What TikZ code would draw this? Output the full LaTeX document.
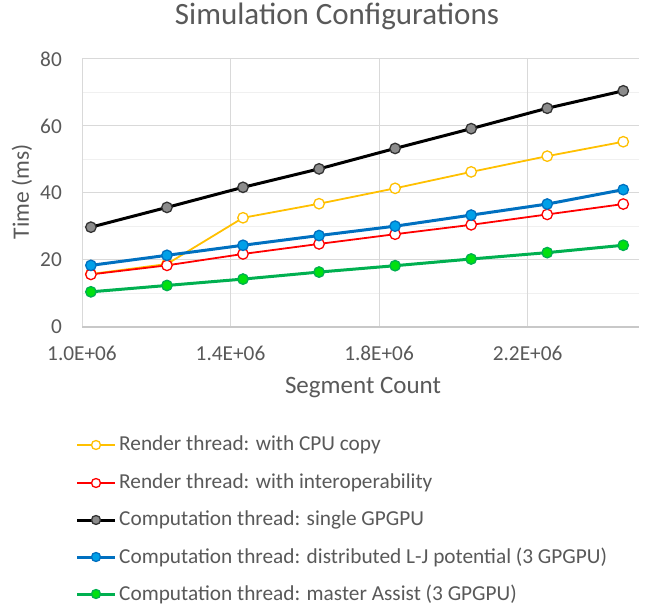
\documentclass[tikz,border=0pt]{standalone}
\usepackage{fontspec}
\setmainfont{Carlito}
\definecolor{txt}{HTML}{595959}
\definecolor{gridmaj}{HTML}{D9D9D9}
\definecolor{gridmin}{HTML}{F0F0F0}
\definecolor{axiscol}{HTML}{C8C8C8}
\definecolor{cyel}{HTML}{FFC000}
\definecolor{cred}{HTML}{FF0000}
\definecolor{cblack}{HTML}{000000}
\definecolor{cgrayfill}{HTML}{8C8C8C}
\definecolor{cblue}{HTML}{0070C0}
\definecolor{cbluefill}{HTML}{00A0E8}
\definecolor{cgreen}{HTML}{00B050}
\definecolor{cgreenfill}{HTML}{00E010}
\tikzset{
  ticklbl/.style={text=txt, inner sep=0pt, font=\fontsize{21.3}{25}\selectfont},
  axtitle/.style={text=txt, inner sep=0pt, font=\fontsize{25}{30}\selectfont},
  legtext/.style={text=txt, inner sep=0pt, anchor=west, font=\fontsize{21.3}{25}\selectfont},
  yelline/.style={draw=cyel, line width=1.8pt, line join=round},
  redline/.style={draw=cred, line width=1.8pt, line join=round},
  blkline/.style={draw=cblack, line width=3pt, line join=round},
  bluline/.style={draw=cblue, line width=3pt, line join=round},
  grnline/.style={draw=cgreen, line width=3pt, line join=round},
  yelmark/.style={circle, inner sep=0pt, minimum size=10.5pt, draw=cyel, line width=1.3pt, fill=white},
  redmark/.style={circle, inner sep=0pt, minimum size=10.5pt, draw=cred, line width=1.3pt, fill=white},
  blkmark/.style={circle, inner sep=0pt, minimum size=10.5pt, draw=black!80, line width=1.3pt, fill=cgrayfill},
  blumark/.style={circle, inner sep=0pt, minimum size=10.5pt, draw=cblue, line width=1.3pt, fill=cbluefill},
  grnmark/.style={circle, inner sep=0pt, minimum size=10.5pt, draw=cgreen, line width=1.3pt, fill=cgreenfill},
}
\begin{document}
\begin{tikzpicture}[x=1pt,y=-1pt]
\useasboundingbox (0,0) rectangle (649,607);
\fill[white] (0,0) rectangle (649,607);
% title
\node[text=txt, inner sep=0pt, anchor=base, font=\fontsize{31}{35}\selectfont] (title) at (337,25) {Simulation Configurations};
\begin{scope}[shift={(82,327)}, x=371.33pt, y=3.35pt]
  % grid
  \foreach \v in {10,30,50,70} \draw[gridmin, line width=1pt] (0,\v) -- (1.5,\v);
  \foreach \v in {20,40,60,80} \draw[gridmaj, line width=1pt] (0,\v) -- (1.5,\v);
  \foreach \u in {0.4,0.8,1.2} \draw[gridmaj, line width=1pt] (\u,0) -- (\u,80);
  \draw[gridmaj, line width=1pt] (0,0) -- (0,80);
  \draw[axiscol, line width=1.2pt] (0,0) -- (1.5,0);
  % y tick labels
  \foreach \v in {0,20,40,60,80}
    \node[ticklbl, anchor=east] (ylab\v) at ([xshift=-20pt]0,\v) {\v};
  % x tick labels
  \node[ticklbl] (xlab1) at ([yshift=-26pt]0,0) {1.0E+06};
  \node[ticklbl] (xlab2) at ([yshift=-26pt]0.4,0) {1.4E+06};
  \node[ticklbl] (xlab3) at ([yshift=-26pt]0.8,0) {1.8E+06};
  \node[ticklbl] (xlab4) at ([yshift=-26pt]1.2,0) {2.2E+06};
  % series coordinates
  \foreach \n/\xx in {1/0.024,2/0.2288,3/0.4336,4/0.6384,5/0.8432,6/1.048,7/1.2528,8/1.4576}{
    \coordinate (px\n) at (\xx,0);
  }
  \foreach \n/\yy in {1/15.8,2/18.8,3/32.6,4/36.8,5/41.4,6/46.3,7/51.0,8/55.3}
    \coordinate (y\n) at (px\n |- 0,\yy);
  \foreach \n/\yy in {1/15.7,2/18.4,3/21.8,4/24.8,5/27.7,6/30.5,7/33.6,8/36.7}
    \coordinate (r\n) at (px\n |- 0,\yy);
  \foreach \n/\yy in {1/29.8,2/35.7,3/41.7,4/47.2,5/53.3,6/59.2,7/65.3,8/70.5}
    \coordinate (k\n) at (px\n |- 0,\yy);
  \foreach \n/\yy in {1/18.4,2/21.4,3/24.4,4/27.3,5/30.1,6/33.4,7/36.7,8/41.0}
    \coordinate (b\n) at (px\n |- 0,\yy);
  \foreach \n/\yy in {1/10.5,2/12.4,3/14.3,4/16.4,5/18.3,6/20.3,7/22.2,8/24.4}
    \coordinate (g\n) at (px\n |- 0,\yy);
\end{scope}
% lines
\draw[yelline] (y1) -- (y2) -- (y3) -- (y4) -- (y5) -- (y6) -- (y7) -- (y8);
\draw[redline] (r1) -- (r2) -- (r3) -- (r4) -- (r5) -- (r6) -- (r7) -- (r8);
\draw[blkline] (k1) -- (k2) -- (k3) -- (k4) -- (k5) -- (k6) -- (k7) -- (k8);
\draw[bluline] (b1) -- (b2) -- (b3) -- (b4) -- (b5) -- (b6) -- (b7) -- (b8);
\draw[grnline] (g1) -- (g2) -- (g3) -- (g4) -- (g5) -- (g6) -- (g7) -- (g8);
% markers
\foreach \n in {1,...,8} \node[yelmark] (ym\n) at (y\n) {};
\foreach \n in {1,...,8} \node[redmark] (rm\n) at (r\n) {};
\foreach \n in {1,...,8} \node[blkmark] (km\n) at (k\n) {};
\foreach \n in {1,...,8} \node[blumark] (bm\n) at (b\n) {};
\foreach \n in {1,...,8} \node[grnmark] (gm\n) at (g\n) {};
% axis titles
\node[axtitle, rotate=90, font=\fontsize{23.5}{28}\selectfont] (ytitle) at (22,192) {Time (ms)};
\node[axtitle, anchor=base] (xtitle) at (363,393) {Segment Count};
% legend
\foreach \i/\yy/\ln/\mk/\lbl in {
  1/445/yelline/yelmark/{Render thread: with CPU copy},
  2/483/redline/redmark/{Render thread: with interoperability},
  3/520/blkline/blkmark/{Computation thread: single GPGPU},
  4/557/bluline/blumark/{Computation thread: distributed L-J potential (3 GPGPU)},
  5/594/grnline/grnmark/{Computation thread: master Assist (3 GPGPU)}}{
  \coordinate (la\i) at (77,\yy);
  \coordinate (lb\i) at (115,\yy);
  \draw[\ln] (la\i) -- (lb\i);
  \node[\mk, minimum size=9pt] (lm\i) at (96,\yy) {};
  \node[legtext] (lt\i) at (119,\yy) {\lbl};
}
\end{tikzpicture}
\end{document}
